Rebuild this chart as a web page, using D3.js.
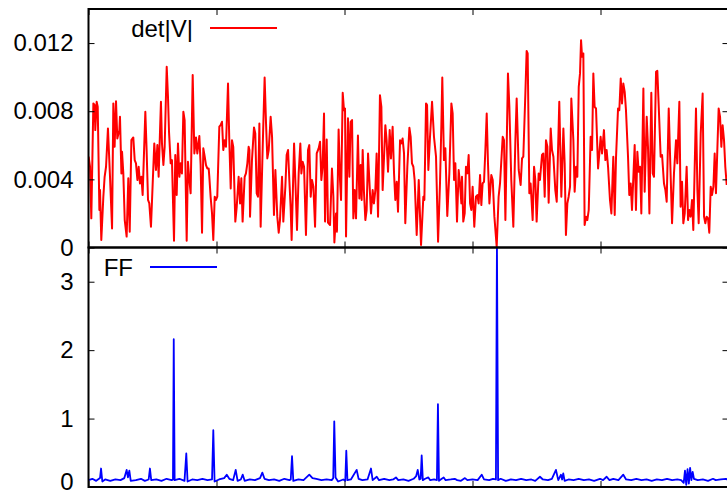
<!DOCTYPE html>
<html>
<head>
<meta charset="utf-8">
<script src="https://cdn.jsdelivr.net/npm/d3@7"></script>
<style>
  body { margin: 0; background: #fff; }
  svg text { font-family: "Liberation Sans", Arial, sans-serif; }
</style>
</head>
<body>
<svg id="chart" width="727" height="495"></svg>
<script>
// x axis (time step) ticks, shared by both panels
const stepTicks = [0, 100, 200, 300, 400, 500];
// y ticks
const detTicks = [0, 0.004, 0.008, 0.012];
const ffTicks = [0, 1, 2, 3];

// det|V| series : [step, value x 1e-3]
const detV = [
  [0.1,5.33],[1.2,4.74],[2.2,1.71],[3.8,8.46],[4.8,8.36],[5.3,6.89],[6.4,8.55],[7.2,8.26],[8.5,2.20],[9.0,3.37],
  [10.0,0.44],[11.6,2.98],[12.6,4.15],[13.7,4.74],[15.2,6.99],[16.8,4.15],[18.4,1.12],[19.4,8.46],[20.4,5.91],[21.5,8.59],
  [22.5,6.40],[24.1,6.89],[24.6,7.67],[25.7,4.35],[26.2,5.62],[27.2,4.35],[28.3,1.61],[29.8,0.64],[31.1,4.06],[32.2,0.93],
  [33.5,6.30],[35.0,6.46],[36.1,5.13],[37.1,4.94],[38.2,3.96],[39.2,4.74],[40.2,3.76],[41.3,4.15],[42.3,3.08],[44.4,7.97],
  [45.4,5.72],[46.5,2.79],[47.5,2.59],[48.8,1.22],[51.4,6.11],[52.7,4.55],[53.8,6.01],[54.8,4.15],[55.9,6.89],[56.6,8.55],
  [57.4,6.11],[58.5,4.84],[59.5,5.91],[61.1,10.61],[62.1,8.85],[62.9,6.79],[64.2,4.94],[65.2,5.13],[66.8,0.40],[67.8,5.43],
  [68.9,3.08],[69.9,6.11],[71.0,4.15],[72.0,4.94],[73.0,4.35],[74.1,7.97],[75.1,7.48],[76.7,0.40],[77.7,5.03],[78.8,3.96],
  [79.8,3.18],[81.4,10.12],[82.7,5.52],[84.0,6.46],[85.0,5.52],[86.6,6.54],[87.6,4.84],[88.7,0.87],[89.7,5.82],[90.8,5.33],
  [91.8,4.84],[92.8,4.64],[93.9,4.64],[94.4,4.15],[95.4,2.98],[96.5,2.00],[97.5,0.44],[98.6,2.98],[99.6,2.79],[100.6,2.98],
  [102.2,7.09],[103.2,7.18],[104.3,7.38],[105.3,5.72],[106.4,6.30],[107.4,5.91],[109.0,9.63],[110.0,6.30],[111.1,3.47],[112.1,6.30],
  [113.1,5.91],[114.7,1.52],[115.8,2.39],[117.3,4.15],[118.4,2.59],[119.4,4.06],[120.4,1.52],[122.0,4.15],[123.0,4.35],
  [124.1,4.94],[125.1,5.91],[125.7,5.72],[126.2,1.81],[127.7,5.13],[129.3,7.05],[130.3,6.70],[131.4,3.18],[132.4,2.98],[133.5,7.28],
  [134.5,1.22],[136.1,5.91],[137.6,9.98],[138.7,7.28],[139.7,5.23],[140.8,5.72],[142.3,7.67],[143.4,6.50],[144.9,1.91],[146.0,4.55],
  [147.5,1.81],[148.6,0.87],[149.6,1.61],[151.2,4.15],[152.2,1.52],[153.8,3.57],[154.8,5.43],[155.9,5.72],[156.9,3.96],[157.9,2.39],
  [158.7,0.44],[160.6,6.11],[161.6,3.96],[162.9,1.03],[164.2,4.35],[165.5,6.11],[166.3,4.35],[167.3,5.03],[168.4,4.74],[169.9,0.73],
  [171.5,5.72],[172.5,6.01],[173.6,2.98],[174.6,3.96],[175.7,3.57],[177.0,1.22],[178.3,5.52],[179.8,5.82],[180.9,6.21],[181.9,3.96],
  [182.9,4.74],[184.0,7.87],[184.8,1.52],[186.1,6.34],[187.1,1.46],[188.7,1.32],[190.2,4.64],[191.3,2.98],[192.1,0.30],[193.4,2.00],
  [194.1,0.93],[195.4,6.93],[196.5,3.96],[197.3,2.79],[198.6,9.08],[199.6,8.06],[200.4,8.16],[201.2,0.64],[202.7,7.58],[203.8,4.15],
  [204.8,7.38],[205.9,7.48],[206.9,1.71],[207.9,3.37],[209.0,1.71],[210.5,6.58],[211.6,2.88],[212.6,4.84],[213.4,2.79],[214.2,5.72],
  [215.2,3.27],[216.3,1.61],[217.3,2.20],[218.4,5.52],[219.4,3.96],[220.7,2.00],[222.0,3.37],[223.0,2.59],[224.1,3.37],[225.1,5.52],
  [226.2,1.81],[227.7,8.94],[228.8,8.26],[229.8,3.37],[230.9,5.33],[231.9,7.18],[232.9,6.30],[234.0,4.45],[235.3,6.89],[236.3,5.23],
  [237.6,7.09],[238.7,4.35],[239.7,2.79],[240.8,3.86],[241.8,2.10],[243.4,6.30],[244.4,6.11],[245.4,6.40],[246.5,5.52],[247.5,1.42],
  [249.1,4.74],[250.7,7.03],[251.7,6.50],[252.7,4.94],[253.8,4.74],[254.8,3.96],[256.4,0.73],[258.0,3.96],[259.8,0.15],[261.6,2.98],
  [262.4,2.79],[263.7,8.46],[264.5,8.36],[265.5,4.55],[266.8,6.50],[268.4,8.55],[269.9,6.50],[271.5,5.33],[273.1,0.34],[274.6,3.76],
  [275.7,7.28],[276.4,9.98],[277.7,5.13],[278.8,5.82],[280.3,1.85],[281.9,4.35],[283.5,8.46],[284.5,7.87],[285.6,3.96],[286.6,4.94],
  [287.9,1.52],[289.2,4.55],[290.2,3.76],[291.3,2.59],[291.8,4.15],[292.8,1.52],[293.9,2.00],[294.9,4.74],[296.0,4.35],[297.0,5.43],
  [298.1,2.59],[299.1,2.20],[300.1,3.57],[301.4,1.22],[302.7,2.98],[303.8,3.08],[304.8,2.59],[305.9,4.25],[306.9,2.49],[307.9,3.76],
  [309.0,3.86],[310.0,5.62],[311.1,7.87],[312.1,4.94],[313.2,2.59],[314.7,4.25],[315.8,3.96],[317.1,1.81],[318.9,0.05],[320.4,2.98],
  [321.5,3.76],[323.6,6.50],[324.6,6.30],[325.7,1.61],[327.7,10.22],[328.8,8.26],[330.3,3.96],[331.9,1.22],[333.5,6.30],[334.5,8.75],
  [336.1,4.55],[337.6,3.67],[338.7,5.23],[339.7,5.33],[341.3,9.04],[342.3,11.54],[343.1,11.39],[344.4,3.18],[345.4,3.76],[347.0,1.61],
  [348.1,4.74],[349.1,3.96],[350.1,1.52],[351.7,4.35],[352.7,3.96],[354.3,5.43],[355.3,5.52],[356.4,2.98],[357.4,6.30],[358.5,5.91],
  [359.5,2.63],[361.1,6.99],[362.1,5.72],[363.2,5.33],[364.7,3.37],[365.8,2.69],[367.8,8.55],[369.4,2.98],[371.0,6.99],[372.0,4.94],
  [373.0,0.73],[374.1,2.59],[375.1,2.98],[376.2,3.57],[377.2,8.75],[378.8,6.30],[379.8,3.27],[380.9,4.74],[381.9,4.15],[383.0,9.43],
  [384.0,10.22],[384.8,12.17],[385.6,11.19],[386.6,11.39],[387.6,1.32],[388.7,1.81],[389.7,1.61],[390.8,2.20],[392.3,6.50],[393.4,5.72],
  [394.4,10.22],[395.4,8.26],[396.5,8.16],[398.1,4.64],[399.1,5.52],[400.1,6.50],[401.2,5.52],[402.7,6.89],[403.8,5.13],[404.8,5.72],
  [405.9,4.74],[407.4,2.79],[408.5,2.00],[410.0,5.33],[411.1,1.91],[412.1,5.23],[413.7,8.16],[414.7,8.06],[415.8,9.92],[416.8,8.46],
  [417.8,9.63],[418.9,9.14],[419.9,8.06],[421.5,5.33],[422.5,3.08],[423.6,3.76],[424.6,2.20],[426.7,6.01],[427.7,2.20],[428.8,5.62],
  [429.8,4.45],[430.9,4.74],[431.9,2.00],[433.5,9.33],[434.5,3.27],[436.1,7.67],[437.1,5.91],[438.2,2.00],[439.7,9.08],[440.8,4.35],
  [441.8,4.15],[443.4,10.31],[444.4,10.37],[445.4,8.46],[447.0,5.33],[448.1,5.43],[449.6,3.76],[450.7,3.37],[451.7,2.69],[453.3,8.16],
  [454.3,5.52],[455.9,1.42],[457.4,4.35],[459.0,6.30],[460.0,4.94],[461.6,8.55],[462.6,2.39],[463.7,3.86],[464.7,1.42],[465.8,2.00],
  [467.3,4.74],[468.4,1.61],[469.4,2.20],[470.4,1.81],[471.5,2.79],[472.5,1.03],[474.6,8.16],[475.7,3.37],[476.7,1.42],[478.3,6.70],
  [479.8,9.04],[480.9,1.81],[481.9,1.42],[482.9,1.81],[484.0,1.71],[485.0,0.87],[486.1,3.57],[487.1,3.08],[488.2,3.57],[489.2,5.52],
  [490.2,3.18],[492.3,8.16],[493.4,7.67],[494.4,5.91],[495.4,7.18],[496.5,6.30],[497.5,4.74],[498.6,3.67]
];

// FF series : [step, value]
const ff = [
  [0,0.10],[3,0.12],[6,0.09],[9,0.13],[9.8,0.27],[10.8,0.08],[13,0.11],[17,0.09],[21,0.11],[25,0.10],
  [28,0.13],[29.8,0.25],[30.8,0.14],[31.9,0.24],[33,0.09],[37,0.10],[41,0.12],[44,0.09],[47,0.11],[48,0.27],
  [49,0.10],[53,0.11],[57,0.09],[61,0.12],[65,0.10],[66,0.11],[66.6,2.16],[67.3,0.10],[71,0.12],[75,0.09],
  [76.4,0.49],[77.4,0.08],[81,0.11],[85,0.10],[89,0.12],[93,0.10],[96.5,0.11],[97.5,0.83],[98.5,0.08],[102,0.11],
  [106,0.13],[108,0.18],[110,0.12],[113,0.10],[115,0.25],[116.5,0.09],[119,0.11],[120.5,0.18],[122,0.09],[126,0.11],
  [130,0.10],[134,0.13],[135.8,0.21],[137.5,0.12],[141,0.10],[145,0.11],[149,0.09],[153,0.12],[157,0.10],[158,0.11],
  [159,0.45],[160,0.09],[164,0.11],[168,0.10],[172.5,0.18],[175,0.13],[178,0.12],[182,0.10],[186,0.11],[190,0.10],
  [191.2,0.13],[192,0.96],[193,0.14],[195,0.08],[199,0.11],[200.6,0.09],[201.4,0.53],[202.3,0.10],[205,0.11],[209.5,0.25],
  [211,0.12],[214,0.10],[218,0.11],[220.7,0.27],[222,0.10],[225.2,0.15],[227,0.10],[231,0.12],[235,0.10],[238,0.11],
  [240.2,0.14],[242,0.10],[246,0.11],[250,0.09],[254,0.12],[256,0.16],[257.2,0.25],[258.5,0.11],[259.5,0.12],[260.3,0.46],
  [261.2,0.10],[263,0.12],[265.5,0.14],[267,0.10],[270,0.11],[272.2,0.10],[273,1.21],[273.8,0.09],[276,0.12],[277.5,0.14],
  [279,0.10],[283,0.11],[286.1,0.12],[288,0.10],[291,0.09],[294.1,0.13],[296,0.10],[300,0.11],[304,0.10],[307.2,0.18],
  [309,0.11],[313,0.10],[316,0.12],[318.3,0.11],[319.1,3.6],[320,0.10],[322,0.12],[326,0.09],[330,0.11],[334,0.10],
  [338,0.12],[342,0.10],[346,0.11],[349,0.09],[352.7,0.15],[355,0.11],[359,0.10],[362,0.12],[365.2,0.25],[367,0.10],
  [369.1,0.18],[370,0.11],[370.9,0.20],[372,0.09],[375,0.11],[379,0.10],[383,0.12],[387,0.10],[391,0.11],[395,0.09],
  [399.6,0.12],[402,0.10],[404.8,0.15],[407,0.10],[410,0.12],[414,0.10],[417.8,0.18],[420,0.11],[424,0.10],[428,0.12],
  [432,0.10],[436,0.11],[440,0.09],[444,0.11],[448,0.10],[452,0.12],[456,0.10],[460,0.11],[463,0.10],[465,0.06],
  [466,0.24],[467,0.03],[468,0.26],[469,0.05],[470,0.28],[471,0.10],[472,0.22],[473,0.12],[476,0.10],[480,0.11],
  [484,0.09],[487.9,0.12],[490,0.10],[494,0.11],[498,0.12],[500,0.10]
];

const W = 727, H = 495;
const left = 88.5, right = 728.5;
const topY = 9, midY = 247.5, botY = 487;
const FONT = 24;

const svg = d3.select("#chart");

const x = d3.scaleLinear().domain([0, 500]).range([left, right]);
const yDet = d3.scaleLinear().domain([0, 0.014]).range([midY, topY]);
const yFF = d3.scaleLinear().domain([0, 3.5]).range([botY, midY]);

// clip areas for each panel
const defs = svg.append("defs");
defs.append("clipPath").attr("id", "clipTop")
  .append("rect").attr("x", left).attr("y", topY).attr("width", right - left).attr("height", midY - topY);
defs.append("clipPath").attr("id", "clipBot")
  .append("rect").attr("x", left).attr("y", midY).attr("width", right - left).attr("height", botY - midY);

// data lines
const lineDet = d3.line().x(d => x(d[0])).y(d => yDet(d[1] / 1000));
const lineFF = d3.line().x(d => x(d[0])).y(d => yFF(d[1]));

svg.append("path")
  .datum(detV)
  .attr("clip-path", "url(#clipTop)")
  .attr("d", lineDet)
  .attr("fill", "none")
  .attr("stroke", "#ff0000")
  .attr("stroke-width", 2)
  .attr("stroke-linejoin", "round");

svg.append("path")
  .datum(ff)
  .attr("clip-path", "url(#clipBot)")
  .attr("d", lineFF)
  .attr("fill", "none")
  .attr("stroke", "#0000ff")
  .attr("stroke-width", 1.8)
  .attr("stroke-linejoin", "round");

// axes: helper to style a d3 axis group
function styleAxis(g, showText) {
  g.select(".domain").remove();
  g.attr("font-size", FONT).attr("font-family", null);
  g.selectAll(".tick line").attr("stroke", "#000").attr("stroke-width", 1);
  g.selectAll(".tick text").attr("fill", "#000");
  if (!showText) g.selectAll(".tick text").remove();
}

// left y axes with labels
svg.append("g").attr("transform", `translate(${left},0)`)
  .call(d3.axisLeft(yDet).tickValues(detTicks).tickSize(-6).tickPadding(15)
    .tickFormat(d => d === 0 ? "0" : d3.format(".3f")(d)))
  .call(g => styleAxis(g, true));

svg.append("g").attr("transform", `translate(${left},0)`)
  .call(d3.axisLeft(yFF).tickValues(ffTicks).tickSize(-6).tickPadding(15).tickFormat(d3.format("d")))
  .call(g => styleAxis(g, true))
  // the lowest label sits a little higher so it stays inside the picture
  .call(g => g.selectAll(".tick text").filter(d => d === 0).attr("dy", "0.1em"));

// mirrored right ticks
svg.append("g").attr("transform", `translate(${right},0)`)
  .call(d3.axisRight(yDet).tickValues(detTicks).tickSize(-6))
  .call(g => styleAxis(g, false));
svg.append("g").attr("transform", `translate(${right},0)`)
  .call(d3.axisRight(yFF).tickValues(ffTicks).tickSize(-6))
  .call(g => styleAxis(g, false));

// x ticks (no labels visible) on every horizontal border, pointing inward
svg.append("g").attr("transform", `translate(0,${topY})`)
  .call(d3.axisTop(x).tickValues(stepTicks).tickSize(-6))
  .call(g => styleAxis(g, false));
svg.append("g").attr("transform", `translate(0,${midY})`)
  .call(d3.axisBottom(x).tickValues(stepTicks).tickSize(-6))
  .call(g => styleAxis(g, false));
svg.append("g").attr("transform", `translate(0,${midY})`)
  .call(d3.axisTop(x).tickValues(stepTicks).tickSize(-6))
  .call(g => styleAxis(g, false));
svg.append("g").attr("transform", `translate(0,${botY})`)
  .call(d3.axisBottom(x).tickValues(stepTicks).tickSize(-6))
  .call(g => styleAxis(g, false));

// panel frames
[[topY, midY], [midY, botY]].forEach(([a, b]) => {
  svg.append("rect")
    .attr("x", left).attr("y", a)
    .attr("width", right - left).attr("height", b - a)
    .attr("fill", "none")
    .attr("stroke", "#000")
    .attr("stroke-width", 2);
});

// legends
const legends = [
  { label: "det|V|", color: "#ff0000", textEnd: 193, x1: 210, x2: 277, y: 28 },
  { label: "FF", color: "#0000ff", textEnd: 133, x1: 150, x2: 217, y: 267 }
];
legends.forEach(l => {
  svg.append("text")
    .attr("x", l.textEnd).attr("y", l.y + 0.36 * FONT)
    .attr("text-anchor", "end")
    .attr("font-size", FONT)
    .attr("fill", "#000")
    .text(l.label);
  svg.append("line")
    .attr("x1", l.x1).attr("x2", l.x2)
    .attr("y1", l.y).attr("y2", l.y)
    .attr("stroke", l.color)
    .attr("stroke-width", 1.8);
});
</script>
</body>
</html>
